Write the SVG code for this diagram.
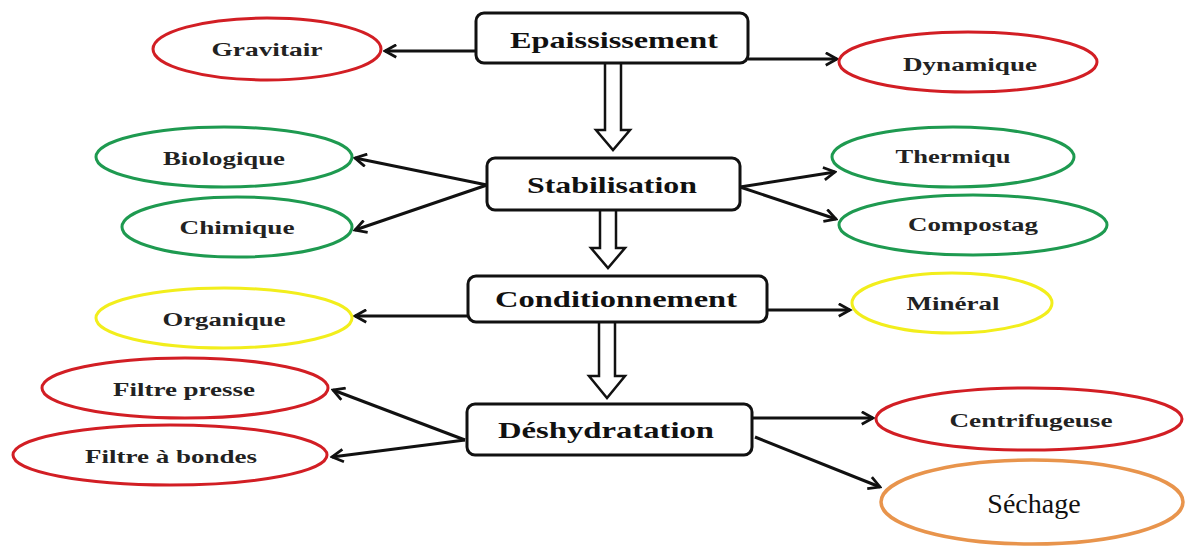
<svg xmlns="http://www.w3.org/2000/svg" width="1185" height="546" viewBox="0 0 1185 546">
<defs>
<marker id="ah" viewBox="0 0 12 12" refX="10" refY="6" markerWidth="5" markerHeight="5" markerUnits="strokeWidth" orient="auto">
<path d="M1,1 L10,6 L1,11" fill="none" stroke="#111" stroke-width="2.2" stroke-linejoin="miter"/>
</marker>
<style>
.box{fill:#fff;stroke:#111;stroke-width:3}
.bt{font-family:"Liberation Serif",serif;font-weight:bold;font-size:23px;fill:#111;text-anchor:middle;dominant-baseline:central}
.et{font-family:"Liberation Serif",serif;font-weight:bold;font-size:18px;fill:#222;text-anchor:middle;dominant-baseline:central}
.red{fill:#fff;stroke:#d21e24;stroke-width:3}
.grn{fill:#fff;stroke:#1e9a50;stroke-width:3}
.yel{fill:#fff;stroke:#f2ee1c;stroke-width:3}
.org{fill:#fff;stroke:#e8944c;stroke-width:3.5}
.c{stroke:#111;stroke-width:3;fill:none;marker-end:url(#ah)}
.dbl{fill:#fff;stroke:#111;stroke-width:2.5;stroke-linejoin:miter}
</style>
</defs>
<rect width="1185" height="546" fill="#fff"/>
<g id="connectors">
<path class="c" d="M476,51 L385,51"/>
<path class="c" d="M748,59 L837,59"/>
<path class="c" d="M487,185 L355,158"/>
<path class="c" d="M487,185 L355,230"/>
<path class="c" d="M740,187 L835,172"/>
<path class="c" d="M740,187 L836,219"/>
<path class="c" d="M468,316 L355,316"/>
<path class="c" d="M767,310 L850,310"/>
<path class="c" d="M465,440 L333,390"/>
<path class="c" d="M465,440 L332,457"/>
<path class="c" d="M752,418 L873,418"/>
<path class="c" d="M755,437 L880,487" stroke-width="4"/>
<path class="dbl" d="M605,63 L605,130 L596,130 L613,150 L630,130 L621,130 L621,63"/>
<path class="dbl" d="M600,210 L600,248 L591,248 L608,268 L625,248 L616,248 L616,210"/>
<path class="dbl" d="M599,322 L599,376 L589,376 L607,398 L625,376 L615,376 L615,322"/>
</g>
<g id="epaississement"><rect class="box" x="476" y="13" width="272" height="50" rx="8"/><text class="bt" x="614" y="40" textLength="208" lengthAdjust="spacingAndGlyphs">Epaississement</text></g>
<g id="gravitair"><ellipse class="red" cx="267" cy="49" rx="114" ry="31"/><text class="et" x="267" y="50" textLength="111" lengthAdjust="spacingAndGlyphs">Gravitair</text></g>
<g id="dynamique"><ellipse class="red" cx="968" cy="62" rx="129" ry="30"/><text class="et" x="970" y="65" textLength="134" lengthAdjust="spacingAndGlyphs">Dynamique</text></g>
<g id="stabilisation"><rect class="box" x="487" y="158" width="253" height="52" rx="8"/><text class="bt" x="612" y="185" textLength="170" lengthAdjust="spacingAndGlyphs">Stabilisation</text></g>
<g id="biologique"><ellipse class="grn" cx="224" cy="157" rx="128" ry="30"/><text class="et" x="224" y="159" textLength="122" lengthAdjust="spacingAndGlyphs">Biologique</text></g>
<g id="chimique"><ellipse class="grn" cx="237" cy="227" rx="115" ry="30"/><text class="et" x="237" y="228" textLength="115" lengthAdjust="spacingAndGlyphs">Chimique</text></g>
<g id="thermiqu"><ellipse class="grn" cx="953" cy="157" rx="121" ry="30"/><text class="et" x="953" y="157" textLength="115" lengthAdjust="spacingAndGlyphs">Thermiqu</text></g>
<g id="compostag"><ellipse class="grn" cx="973" cy="225" rx="134" ry="30"/><text class="et" x="973" y="225" textLength="130" lengthAdjust="spacingAndGlyphs">Compostag</text></g>
<g id="conditionnement"><rect class="box" x="468" y="276" width="299" height="46" rx="8"/><text class="bt" x="616" y="299" textLength="242" lengthAdjust="spacingAndGlyphs">Conditionnement</text></g>
<g id="organique"><ellipse class="yel" cx="224" cy="318" rx="128" ry="30"/><text class="et" x="224" y="320" textLength="123" lengthAdjust="spacingAndGlyphs">Organique</text></g>
<g id="mineral"><ellipse class="yel" cx="952" cy="303" rx="100" ry="30"/><text class="et" x="953" y="304" textLength="93" lengthAdjust="spacingAndGlyphs">Minéral</text></g>
<g id="deshydratation"><rect class="box" x="467" y="404" width="285" height="51" rx="8"/><text class="bt" x="606" y="430" textLength="216" lengthAdjust="spacingAndGlyphs">Déshydratation</text></g>
<g id="filtre-presse"><ellipse class="red" cx="185" cy="388" rx="143" ry="30"/><text class="et" x="184" y="390" textLength="142" lengthAdjust="spacingAndGlyphs">Filtre presse</text></g>
<g id="filtre-bondes"><ellipse class="red" cx="170" cy="455" rx="157" ry="30"/><text class="et" x="171" y="457" textLength="172" lengthAdjust="spacingAndGlyphs">Filtre à bondes</text></g>
<g id="centrifugeuse"><ellipse class="red" cx="1029" cy="419" rx="153" ry="31"/><text class="et" x="1031" y="421" textLength="163" lengthAdjust="spacingAndGlyphs">Centrifugeuse</text></g>
<g id="sechage"><ellipse class="org" cx="1032" cy="502" rx="151" ry="42"/><text x="1034" y="503" font-family="Liberation Serif,serif" font-size="28" fill="#111" text-anchor="middle" dominant-baseline="central">Séchage</text></g>
</svg>
